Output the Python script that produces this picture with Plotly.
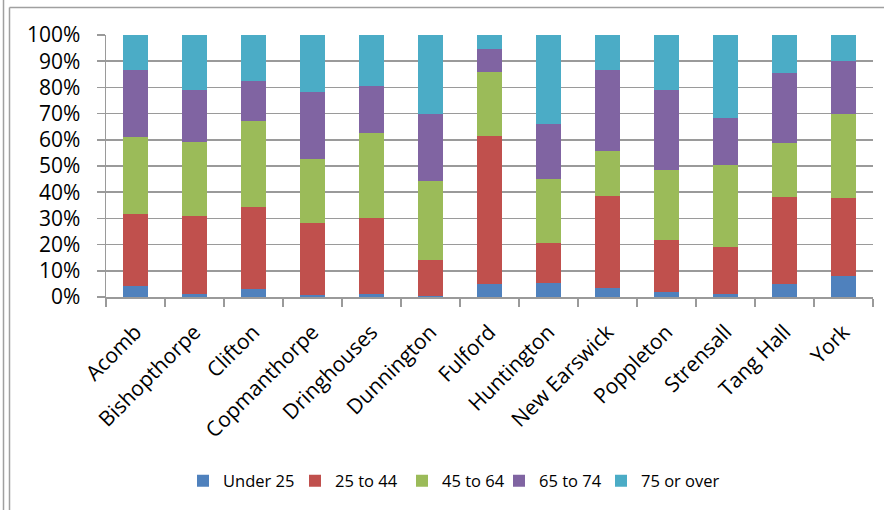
import plotly.graph_objects as go

categories = ["Acomb", "Bishopthorpe", "Clifton", "Copmanthorpe", "Dringhouses",
              "Dunnington", "Fulford", "Huntington", "New Earswick", "Poppleton",
              "Strensall", "Tang Hall", "York"]

under_25 = [4.2, 1.3, 2.9, 0.6, 1.3, 0.3, 5.1, 5.5, 3.6, 1.9, 1.3, 5.1, 8.0]
age_25_44 = [27.6, 29.7, 31.5, 27.7, 28.9, 14.0, 56.3, 15.1, 35.0, 19.9, 17.8, 33.1, 29.8]
age_45_64 = [29.1, 28.2, 32.7, 24.2, 32.5, 29.9, 24.3, 24.6, 17.1, 26.6, 31.3, 20.5, 32.1]
age_65_74 = [25.7, 20.0, 15.4, 25.8, 17.8, 25.7, 8.9, 20.7, 31.1, 30.7, 18.0, 26.9, 20.3]
age_75_over = [13.4, 20.8, 17.5, 21.7, 19.5, 30.1, 5.4, 34.1, 13.2, 20.9, 31.6, 14.4, 9.8]

series_names = ["Under 25", "25 to 44", "45 to 64", "65 to 74", "75 or over"]
series_values = [under_25, age_25_44, age_45_64, age_65_74, age_75_over]
colors = ["#4F81BD", "#C0504D", "#9BBB59", "#8064A2", "#4BACC6"]

W, H = 884, 510
ML, MR, MT, MB = 106, 11, 35, 213
PW, PH = W - ML - MR, H - MT - MB

def px_x(px):
    return (px - ML) / PW

def px_y(py):
    return (H - MB - py) / PH

# legend entry start positions (pixels) for each series, one legend box each
legend_left_px = [183, 295, 402, 499, 601]
legend_ids = ["legend", "legend2", "legend3", "legend4", "legend5"]

fig = go.Figure()
for name, vals, col, lid in zip(series_names, series_values, colors, legend_ids):
    fig.add_trace(go.Bar(x=categories, y=vals, name=name, legend=lid,
                         marker=dict(color=col, line=dict(width=0))))

frame = "#a0a0a0"
shapes = [
    dict(type="line", xref="paper", yref="paper", x0=px_x(3.5), x1=px_x(3.5),
         y0=px_y(0), y1=px_y(H), line=dict(color=frame, width=1.5)),
    dict(type="line", xref="paper", yref="paper", x0=px_x(9.5), x1=px_x(9.5),
         y0=px_y(7.5), y1=px_y(H), line=dict(color=frame, width=1.5)),
    dict(type="line", xref="paper", yref="paper", x0=px_x(9.5), x1=px_x(W),
         y0=px_y(7.5), y1=px_y(7.5), line=dict(color=frame, width=1.5)),
]

legend_style = dict(orientation="h", xanchor="left", y=px_y(481), yanchor="middle",
                    font=dict(size=16.5, family="Open Sans", color="black"),
                    itemwidth=30, bgcolor="rgba(0,0,0,0)")
legends = {lid: dict(legend_style, x=px_x(lx)) for lid, lx in zip(legend_ids, legend_left_px)}

grid = "#9a9a9a"
fig.update_layout(
    width=W, height=H,
    margin=dict(l=ML, r=MR, t=MT, b=MB, pad=0, autoexpand=False),
    paper_bgcolor="white", plot_bgcolor="white",
    barmode="stack", barnorm="percent", bargap=0.59,
    font=dict(family="Open Sans", size=21, color="black"),
    shapes=shapes,
    showlegend=True,
    **legends,
    xaxis=dict(type="category", showgrid=False, showline=True, linecolor=grid,
               linewidth=1.5, ticks="outside", tickson="boundaries", ticklen=8,
               tickcolor=grid, tickwidth=1.5, tickangle=-45,
               ticklabelstandoff=13, automargin=False,
               tickfont=dict(size=21), fixedrange=True),
    yaxis=dict(range=[0, 100], dtick=10, ticksuffix="%", showgrid=True,
               gridcolor=grid, gridwidth=1.5, showline=True, linecolor=grid,
               linewidth=1.5, ticks="outside", ticklen=8, tickcolor=grid,
               tickwidth=1.5, zeroline=False, ticklabelstandoff=12,
               automargin=False, tickfont=dict(size=21), fixedrange=True),
)

fig.write_html("out.html", config={"displayModeBar": False, "staticPlot": True},
               post_script="document.body.style.margin='0';document.body.style.overflow='hidden';")
